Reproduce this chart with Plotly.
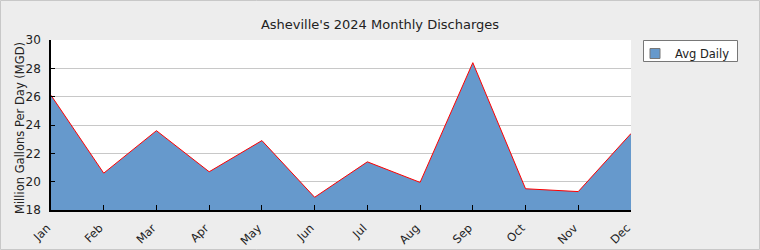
import plotly.graph_objects as go

months = ["Jan", "Feb", "Mar", "Apr", "May", "Jun", "Jul", "Aug", "Sep", "Oct", "Nov", "Dec"]
avg_daily = [26.1, 20.6, 23.6, 20.7, 22.9, 18.9, 21.4, 19.95, 28.4, 19.5, 19.3, 23.4]
y_ticks = [18, 20, 22, 24, 26, 28, 30]
y_title = "Million Gallons Per Day (MGD)"

W, H = 760, 250
ml, mr, mt, mb = 51, 129, 40, 40
pw, ph = W - ml - mr, H - mt - mb

fig = go.Figure()
fig.add_trace(go.Scatter(
    x=list(range(len(months))), y=avg_daily, name="Avg Daily",
    mode="lines", fill="tozeroy", fillcolor="#6699cc",
    line=dict(color="#ff0000", width=1), showlegend=False,
))
# legend swatch
fig.add_trace(go.Scatter(
    x=[None], y=[None], name="Avg Daily", mode="markers",
    marker=dict(symbol="square", size=10, color="#6699cc",
                line=dict(color="#777777", width=1)),
))

fig.update_layout(
    width=W, height=H,
    margin=dict(l=ml, r=mr, t=mt, b=mb, pad=0),
    paper_bgcolor="#ededed", plot_bgcolor="#ffffff",
    font=dict(family="DejaVu Sans", size=11, color="#222222"),
    title=dict(text="Asheville's 2024 Monthly Discharges", x=0.5, xanchor="center",
               y=1 - 24 / H, yanchor="middle", font=dict(size=13, color="#222222")),
    showlegend=True,
    legend=dict(x=(635 - ml) / pw, y=1.0 + 1 / ph, xanchor="left", yanchor="top",
                bgcolor="rgba(0,0,0,0)", borderwidth=0,
                font=dict(size=11.5), itemwidth=30),
    xaxis=dict(range=[0, 11], tickvals=list(range(len(months))), ticktext=months,
               tickangle=-45, ticks="inside", ticklen=5, tickcolor="#000000",
               showline=True, linecolor="#000000", linewidth=1.5,
               showgrid=False, zeroline=False, fixedrange=True, automargin=False,
               tickfont=dict(size=11.5), ticklabelstandoff=5, ticklabelshift=-4),
    yaxis=dict(range=[18, 30], tickvals=y_ticks, ticks="inside", ticklen=4,
               tickcolor="#000000", showline=True, linecolor="#000000", linewidth=1.5,
               gridcolor="#c8c8c8", zeroline=False, automargin=False,
               tickfont=dict(size=12), ticklabelstandoff=6),
)

fig.add_annotation(text=y_title, textangle=-90, xref="paper", yref="paper",
                   x=(20 - ml) / pw, y=1 - (128 - mt) / ph, xanchor="center", yanchor="middle",
                   showarrow=False, font=dict(size=11.5, color="#222222"))

# outer border
fig.add_shape(type="rect", xref="paper", yref="paper",
              x0=-(ml - 0.5) / pw, x1=1 + (mr - 0.5) / pw,
              y0=-(mb - 0.5) / ph, y1=1 + (mt - 0.5) / ph,
              line=dict(color="#c8c8c8", width=1), layer="below")
# legend box
fig.add_shape(type="rect", xref="paper", yref="paper",
              x0=(643.5 - ml) / pw, x1=(737.5 - ml) / pw,
              y0=1 - (61.5 - mt) / ph, y1=1 - (40.5 - mt) / ph,
              line=dict(color="#777777", width=1), fillcolor="#ffffff", layer="below")

fig.write_html("out.html")
